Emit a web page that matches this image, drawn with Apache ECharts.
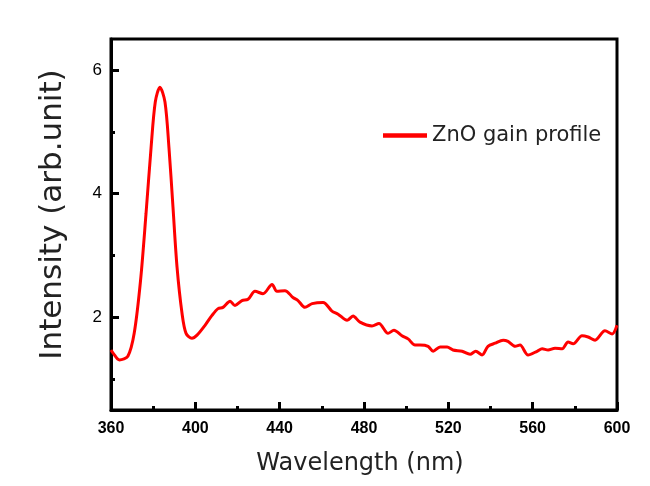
<!DOCTYPE html>
<html>
<head>
<meta charset="utf-8">
<script src="https://cdn.jsdelivr.net/npm/echarts@6/dist/echarts.min.js"></script>
<style>html,body{margin:0;padding:0;background:#fff}#c{width:650px;height:486px}</style>
</head>
<body>
<div id="c"></div>
<script>
const wavelengths = [360,361,364,368,371,374,376.6,379,381,383.2,385.6,387.5,389.4,391.3,393.7,395.6,398.4,400.8,404.6,407.9,410.8,413.1,416.5,418.8,422.1,425,428.3,432.1,436.4,438.7,442.5,446.3,448.7,452,455.4,460.6,464.8,467.7,472,474.8,478.1,483.8,487.1,491.4,494.2,498,500.9,504.2,506.6,510.4,512.8,516.1,519.4,522.2,526.5,530.3,533,536,538.8,542.2,546,548.3,551.7,554,557.8,562.1,564.5,567.3,570.6,574,576.8,579.2,583.4,586.3,589.6,594.3,597.7,600];
const intensity = [1.47,1.42,1.31,1.37,1.74,2.59,3.67,4.74,5.48,5.72,5.48,4.74,3.78,2.82,2.06,1.74,1.66,1.71,1.87,2.03,2.14,2.16,2.26,2.19,2.27,2.29,2.42,2.38,2.53,2.42,2.43,2.32,2.27,2.16,2.22,2.24,2.1,2.05,1.95,2.02,1.92,1.86,1.9,1.74,1.79,1.7,1.65,1.55,1.55,1.53,1.45,1.52,1.52,1.47,1.45,1.4,1.45,1.39,1.53,1.58,1.63,1.61,1.53,1.55,1.39,1.45,1.49,1.47,1.5,1.49,1.6,1.57,1.7,1.68,1.63,1.78,1.73,1.87];
const xTicks = [360,400,440,480,520,560,600];
const yMajor = [2,4,6];
const yMinor = [1,3,5];
const seriesName = 'ZnO gain profile';

const data = wavelengths.map((w,i)=>[w,intensity[i]]);
const chart = echarts.init(document.getElementById('c'));
chart.setOption({
  animation:false,
  grid:{left:111,right:33,top:39,bottom:76,show:true,borderColor:'#000',borderWidth:3,backgroundColor:'transparent'},
  legend:{show:true,left:378,top:120,itemWidth:44,itemHeight:10,itemGap:8,
    textStyle:{fontFamily:'DejaVu Sans',fontSize:21,color:'#222'},
    data:[{name:seriesName,icon:'path://M0,0H10V1H0Z'}]},
  xAxis:{type:'value',min:360,max:600,interval:40,
    name:'Wavelength (nm)',nameLocation:'middle',nameGap:42,
    nameTextStyle:{fontFamily:'DejaVu Sans',fontSize:24,color:'#222',padding:[0,8,0,0]},
    axisLine:{show:true,lineStyle:{color:'#000',width:3}},
    axisTick:{show:true,inside:true,length:8,lineStyle:{color:'#000',width:3}},
    minorTick:{show:true,splitNumber:2,length:4,lineStyle:{color:'#000',width:3}},
    axisLabel:{margin:11,customValues:xTicks,color:'#000',fontFamily:'Liberation Sans',fontWeight:'bold',fontSize:16},
    splitLine:{show:false}},
  yAxis:[{type:'value',min:0.5,max:6.5,
    name:'Intensity (arb.unit)',nameLocation:'middle',nameGap:43,
    nameTextStyle:{fontFamily:'DejaVu Sans',fontSize:31,color:'#222',padding:[0,0,0,20]},
    axisLine:{show:true,lineStyle:{color:'#000',width:3}},
    axisTick:{show:true,inside:true,length:8,customValues:yMajor,lineStyle:{color:'#000',width:3}},
    axisLabel:{margin:9,customValues:yMajor,color:'#000',fontFamily:'Liberation Sans',fontSize:17},
    splitLine:{show:false}},
   {type:'value',min:0.5,max:6.5,position:'left',
    axisLine:{show:false},
    axisTick:{show:true,inside:true,length:4,customValues:yMinor,lineStyle:{color:'#000',width:3}},
    axisLabel:{show:false},splitLine:{show:false}}],
  series:[{name:seriesName,type:'line',data:data,smooth:0.3,showSymbol:false,
    lineStyle:{color:'#ff0000',width:3},itemStyle:{color:'#ff0000'}}]
});
</script>
</body>
</html>
